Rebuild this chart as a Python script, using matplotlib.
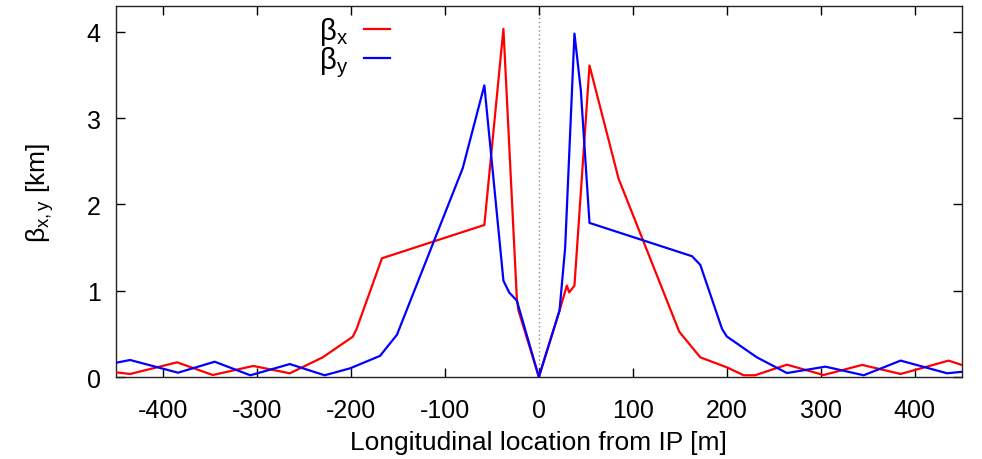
import matplotlib
matplotlib.use("Agg")
import matplotlib.pyplot as plt

plt.rcParams['font.family'] = ['Liberation Sans', 'DejaVu Sans']
plt.rcParams['mathtext.fontset'] = 'custom'
plt.rcParams['mathtext.rm'] = 'Liberation Sans'
plt.rcParams['mathtext.it'] = 'Liberation Sans'
plt.rcParams['axes.unicode_minus'] = False

# beta_x (red)
sx = [-450, -435, -385, -347, -304, -265, -230, -198, -194, -167, -58, -37.7,
      -23.4, -21.7, 0, 22, 29.8, 32.3, 37.9, 53.9, 84.8, 149.4, 171.8, 200,
      218, 230, 264, 303, 344, 385, 436, 450]
bx = [0.054, 0.035, 0.17, 0.023, 0.128, 0.043, 0.228, 0.467, 0.556, 1.376, 1.762, 4.035,
      0.904, 0.77, 0.0, 0.77, 1.06, 0.98, 1.06, 3.61, 2.30, 0.525, 0.228, 0.112,
      0.02, 0.02, 0.143, 0.023, 0.14, 0.035, 0.19, 0.14]

# beta_y (blue)
sy = [-450, -435, -384, -345, -307, -265, -228, -201, -169, -151, -81, -58,
      -37.7, -31.6, -23.4, 0, 22, 28, 37.9, 44.7, 53.9, 163, 171.8, 195, 200,
      232, 264, 305, 345.7, 385, 434.5, 450]
by = [0.165, 0.197, 0.05, 0.177, 0.02, 0.15, 0.02, 0.1, 0.245, 0.49, 2.42, 3.38,
      1.117, 0.98, 0.885, 0.0, 0.77, 1.5, 3.98, 3.32, 1.786, 1.40, 1.30, 0.556, 0.47,
      0.228, 0.046, 0.12, 0.02, 0.19, 0.043, 0.06]

xticks = [-400, -300, -200, -100, 0, 100, 200, 300, 400]
yticks = [0, 1, 2, 3, 4]

fig = plt.figure(figsize=(9.82, 4.6), dpi=100)
ax = fig.add_axes([116/982, 1-378/460, (961.7-116)/982, (378-7)/460])

ax.axvline(0, color='#888888', linestyle=(0, (1, 2)), linewidth=1.0, zorder=1)
ax.plot(sx, bx, color='#ff0000', linewidth=1.6, label=r'$\mathrm{\beta_x}$', zorder=3)
ax.plot(sy, by, color='#0000ff', linewidth=1.6, label=r'$\mathrm{\beta_y}$', zorder=3)

ax.set_xlim(-450, 450)
ax.set_ylim(0, 4.3)
ax.set_xticks(xticks)
ax.set_yticks(yticks)
ax.tick_params(direction='in', length=6.5, width=1.0, top=True, right=True,
               labelsize=18, colors='black')
ax.tick_params(axis='x', pad=15)
ax.tick_params(axis='y', pad=11)
for sp in ax.spines.values():
    sp.set_linewidth(1.0)
    sp.set_color('#222222')

ax.set_xlabel('Longitudinal location from IP [m]', fontsize=19, labelpad=6)
ax.set_ylabel(r'$\mathrm{\beta_{x,y}}$ [km]', fontsize=19, labelpad=22)

leg = ax.legend(loc='upper right', bbox_to_anchor=(0.324, 0.975), frameon=False,
                markerfirst=False, fontsize=21, handlelength=0.9, handletextpad=0.55,
                labelspacing=-0.1, borderaxespad=0, borderpad=0)

fig.savefig('out.png', dpi=100)
